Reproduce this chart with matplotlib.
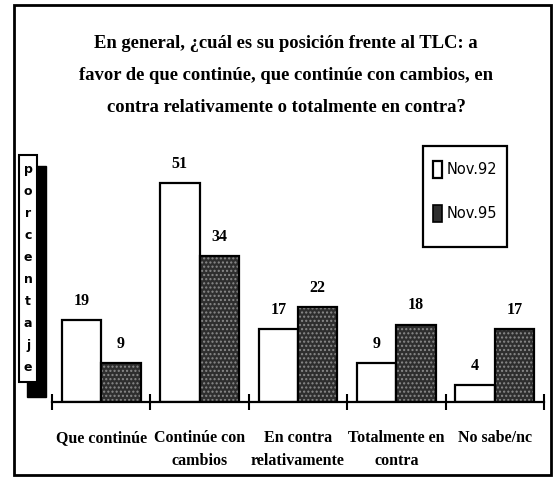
import matplotlib
matplotlib.use("Agg")
import matplotlib.pyplot as plt
from matplotlib.patches import Rectangle
import numpy as np

categories = ["Que continúe", "Continúe con\ncambios", "En contra\nrelativamente",
              "Totalmente en\ncontra", "No sabe/nc"]
nov92 = [19, 51, 17, 9, 4]
nov95 = [9, 34, 22, 18, 17]
series_names = ["Nov.92", "Nov.95"]
title_lines = ["En general, ¿cuál es su posición frente al TLC: a",
               "favor de que continúe, que continúe con cambios, en",
               "contra relativamente o totalmente en contra?"]
ylabel = "porcentaje"

W, H = 558, 478
fig = plt.figure(figsize=(W / 100, H / 100), dpi=100)
fig.patch.set_facecolor("white")

def fx(px):
    return px / W

def fy(py):
    return 1 - py / H

def frect(x0, y0, x1, y1, **kw):
    r = Rectangle((fx(x0), fy(y1)), fx(x1) - fx(x0), fy(y0) - fy(y1),
                  transform=fig.transFigure, **kw)
    fig.patches.append(r)
    return r

serif = "Liberation Serif"
dark = "#2e2e2e"

# outer frame
frect(14, 5, 551, 475, fill=False, edgecolor="black", linewidth=2)

# title, one text per line
for line, yc in zip(title_lines, (44, 76, 107)):
    fig.text(fx(286), fy(yc), line, ha="center", va="center", fontsize=13.4,
             fontweight="bold", family=serif)

# axes
ax_left, ax_right = 52, 544
ax_bottom, ax_top = 402, 144
ax = fig.add_axes([fx(ax_left), fy(ax_bottom), fx(ax_right) - fx(ax_left),
                   fy(ax_top) - fy(ax_bottom)])
ax.set_xlim(-0.5, len(categories) - 0.5)
ax.set_ylim(0, 60)
ax.patch.set_alpha(0)
for s in ["top", "right", "left"]:
    ax.spines[s].set_visible(False)
ax.spines["bottom"].set_linewidth(1.6)
ax.set_yticks([])

x = np.arange(len(categories))
w = 0.4
ax.bar(x - w / 2, nov92, width=w, facecolor="white", edgecolor="black", linewidth=1.6,
       zorder=2)
ax.bar(x + w / 2, nov95, width=w, facecolor=dark, edgecolor="#8a8a8a",
       hatch="....", linewidth=0, zorder=2)
ax.bar(x + w / 2, nov95, width=w, facecolor="none", edgecolor="black", linewidth=1.6,
       zorder=3)

for xs, vals in ((x - w / 2, nov92), (x + w / 2, nov95)):
    for xi, v in zip(xs, vals):
        ax.annotate(str(v), (xi, v), xytext=(0, 8), textcoords="offset points",
                    ha="center", va="bottom", fontsize=11.5, fontweight="bold",
                    family=serif)

# boundary ticks
ax.set_xticks(np.arange(-0.5, len(categories), 1.0))
ax.set_xticklabels([])
ax.tick_params(axis="x", which="major", direction="inout", length=11, width=1.5)
# category labels
ax.set_xticks(x, minor=True)
ax.set_xticklabels(categories, minor=True, fontsize=11.5, fontweight="bold",
                   family=serif, linespacing=1.6)
ax.tick_params(axis="x", which="minor", length=0, pad=20)

# legend (drawn manually to match the tall narrow box)
frect(423, 146, 507, 247, facecolor="white", edgecolor="black", linewidth=1.6)
frect(433, 161, 442, 178, facecolor="white", edgecolor="black", linewidth=1.6)
frect(433, 205, 442, 222, facecolor=dark, edgecolor="black", linewidth=1.2)
for name, yc in zip(series_names, (170, 214)):
    fig.text(fx(447), fy(yc), name, ha="left", va="center", fontsize=10.5,
             family="DejaVu Sans")

# y label box with shadow
frect(27, 166, 46, 397, facecolor="black", edgecolor="black")
frect(19, 155, 37, 382, facecolor="white", edgecolor="black", linewidth=1.5)
for i, ch in enumerate(ylabel):
    fig.text(fx(28), fy(170 + i * 21.9), ch, ha="center", va="center", fontsize=9,
             fontweight="bold", family="DejaVu Sans")

fig.savefig("out.png", dpi=100)
